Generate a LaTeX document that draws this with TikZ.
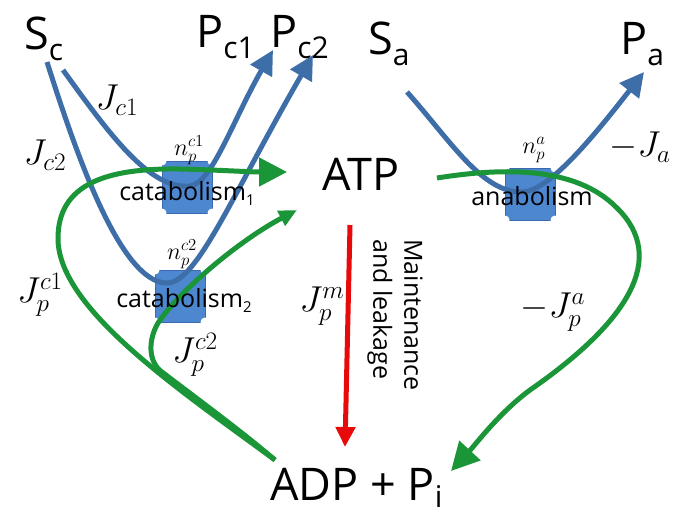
\RequirePackage{fix-cm}
\documentclass[tikz,border=0pt]{standalone}
\usepackage{fontspec}
\setmainfont{Open Sans}
\usetikzlibrary{arrows.meta}
\definecolor{bline}{RGB}{62,110,168}
\definecolor{bfill}{RGB}{76,135,208}
\definecolor{bedge}{RGB}{58,105,175}
\definecolor{gline}{RGB}{26,150,56}
\definecolor{rline}{RGB}{232,10,10}
\newcommand{\lblsub}[2][-11pt]{\raisebox{#1}{\fontsize{30}{32}\selectfont #2}}
\newcommand{\procsub}[1]{\raisebox{-5pt}{\fontsize{15}{16}\selectfont #1}}
\begin{document}
\begin{tikzpicture}[x=1pt,y=-1pt,
  big/.style={font=\fontsize{45}{50}\selectfont, inner sep=0pt, anchor=base west},
  proc/.style={font=\fontsize{25}{28}\selectfont, inner sep=0pt, anchor=base},
  mlab/.style={font=\fontsize{36}{40}\selectfont, inner sep=0pt},
  nlab/.style={font=\fontsize{24}{26}\selectfont, inner sep=0pt},
  enzbox/.style={fill=bfill, draw=bedge, line width=0.8pt},
  notch/.style={fill=white},
  bflow/.style={draw=bline, line width=5pt},
  gflow/.style={draw=gline, line width=5pt},
  bhead/.style={-{Triangle[length=24pt,width=24pt]}},
  ghead/.style={-{Triangle[length=28pt,width=28pt]}},
  gsmall/.style={-{Triangle[length=18pt,width=16pt]}},
  rhead/.style={-{Triangle[length=20pt,width=19pt]}}
]
\useasboundingbox (0,0) rectangle (677,515);
\fill[white] (0,0) rectangle (677,515);

% enzyme boxes with notched corners
\foreach \cx/\cy/\nm in {187/187/b1, 180/296/b2, 530/194/b3}{
  \path[enzbox] (\cx-25,\cy-26) rectangle (\cx+25,\cy+26);
  \foreach \dx/\dy in {-25/-26, 25/-26, -25/26, 25/26}
    \fill[notch] (\cx+\dx,\cy+\dy) circle (4.5);
  \coordinate (\nm) at (\cx,\cy);
}

% species labels
\node[big] (Sc)  at (24,49)  {S\lblsub{c}};
\node[big] (Pc1) at (196,47) {P\lblsub{c1}};
\node[big] (Pc2) at (270,47) {P\lblsub{c2}};
\node[big] (Sa)  at (368,54) {S\lblsub{a}};
\node[big] (Pa)  at (620,54) {P\lblsub{a}};
\node[big] (ATP) at (322,190) {ATP};
\node[big] (ADP) at (270,500) {ADP + P\lblsub[-7pt]{i}};

% flow end points
\coordinate (c1s) at (63,70);
\coordinate (c1b) at (190,186);
\coordinate (c1e) at (273,50);
\coordinate (c2s) at (47,62);
\coordinate (c2b) at (167,283);
\coordinate (c2e) at (313,55);
\coordinate (as)  at (407,92);
\coordinate (ab)  at (522,192);
\coordinate (ae)  at (644,72);
\coordinate (adp) at (275,460);
\coordinate (atp1) at (287,172);
\coordinate (atp2) at (297,210);
\coordinate (atp3) at (437,178);
\coordinate (adp3) at (451,471);
\coordinate (rs) at (350,225);
\coordinate (re) at (345,447);

% blue substrate/product flows
\draw[bflow,bhead] (c1s) .. controls (110,135) and (150,190) .. (c1b)
   .. controls (212,183) and (232,122) .. (c1e);
\draw[bflow,bhead] (c2s) .. controls (75,150) and (120,283) .. (c2b)
   .. controls (197,283) and (232,195) .. (c2e);
\draw[bflow,bhead] (as) .. controls (450,140) and (482,193) .. (ab)
   .. controls (550,192) and (600,128) .. (ae);

% green ATP flows
\draw[gflow,ghead] (adp) .. controls (180,390) and (60,310) .. (58,240)
   .. controls (57,182) and (110,168) .. (180,169)
   .. controls (220,170) and (250,172) .. (atp1);
\draw[gflow,gsmall] (adp) .. controls (241,431) and (200,401) .. (162,372)
   .. controls (148,362) and (148,340) .. (158,323)
   .. controls (180,290) and (240,240) .. (atp2);
\draw[gflow,ghead] (atp3) .. controls (500,168) and (575,165) .. (617,208)
   .. controls (668,258) and (628,322) .. (530,390)
   .. controls (500,412) and (475,445) .. (adp3);

% maintenance
\draw[draw=rline, line width=5pt, rhead] (rs) -- (re);
\node[font=\fontsize{25}{31}\selectfont, rotate=-90, align=left, anchor=north west, inner sep=0pt]
  (maint) at (423,239) {Maintenance\\and leakage};

% process labels
\node[proc] (cat1) at (187,200) {catabolism\procsub{1}};
\node[proc] (cat2) at (184,307) {catabolism\procsub{2}};
\node[proc] (anab) at (532,205) {anabolism};

% math labels
\node[mlab] (Jc1) at (117,100) {$J_{c1}$};
\node[mlab] (Jc2) at (45,155) {$J_{c2}$};
\node[nlab] (npc1) at (189,150) {$n_p^{c1}$};
\node[nlab] (npc2) at (182,254) {$n_p^{c2}$};
\node[nlab] (npa) at (534,150) {$n_p^{a}$};
\node[mlab] (Ja) at (640,147) {$-J_a$};
\node[mlab] (Jpc1) at (40,295) {$J_p^{c1}$};
\node[mlab] (Jpc2) at (195,355) {$J_p^{c2}$};
\node[mlab] (Jpm) at (322,306) {$J_p^{m}$};
\node[mlab] (Jpa) at (553,312) {$-J_p^{a}$};
\end{tikzpicture}
\end{document}
